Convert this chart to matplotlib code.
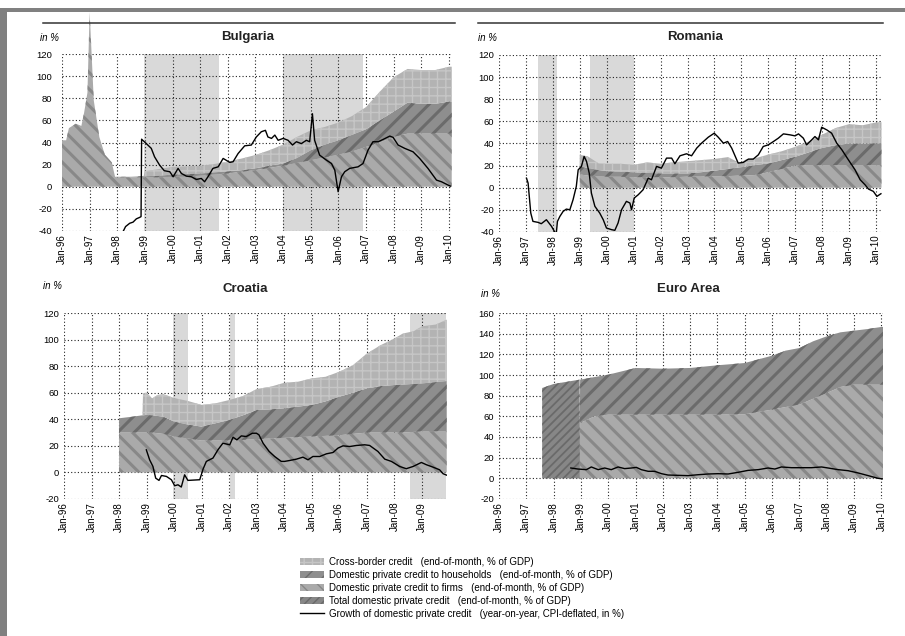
import numpy as np
import matplotlib
matplotlib.use("Agg")
import matplotlib.pyplot as plt
from matplotlib.patches import Patch, Rectangle
from matplotlib.lines import Line2D

plt.rcParams['font.family'] = ['Liberation Sans', 'DejaVu Sans']
plt.rcParams['axes.unicode_minus'] = False

# ---------------- data (% of GDP) ----------------
# Bulgaria
bg_t = [1996.0, 1996.15, 1996.25, 1996.5, 1996.7, 1996.8, 1996.92, 1997.0, 1997.15, 1997.35,
        1997.55, 1997.8, 1997.92, 1998.0, 1998.5, 1998.95, 1999.0, 1999.5, 2000.0, 2000.5,
        2001.0, 2001.5, 2002.0, 2002.5, 2003.0, 2003.5, 2004.0, 2004.5, 2005.0, 2005.5,
        2006.0, 2006.5, 2007.0, 2007.5, 2008.0, 2008.5, 2009.0, 2009.5, 2010.0, 2010.1]
bg_firms = [42, 42, 53, 57, 55, 67, 85, 158, 78, 45,
            29, 22, 9, 8.5, 8.5, 8.5, 8.5, 8.5, 9, 9,
            10, 11, 12, 13.5, 15, 17, 19, 21.5, 24, 26.5,
            29, 32, 36, 40, 45, 48, 48, 48, 48, 48]
bg_house = [0, 0, 0, 0, 0, 0, 0, 0, 0, 0,
            0, 0, 0, 0.5, 0.5, 1, 1, 1.5, 2, 2.5,
            2, 2, 2, 1.5, 1.7, 2, 2, 4.5, 9, 11.5,
            13, 15, 16, 20, 23, 28, 27, 27, 29, 29]
bg_cross = [0, 0, 0, 0, 0, 0, 0, 0, 0, 0,
            0, 0, 0, 0, 0, 0, 4.5, 6, 7, 7,
            7, 7.5, 8.7, 10.5, 12, 14, 17, 19, 18, 16,
            16, 17, 20, 26, 31, 30.5, 30.5, 30.5, 31.5, 31.5]
bg_gt = [1998.18, 1998.3, 1998.45, 1998.57, 1998.69, 1998.81, 1998.86, 1998.88, 1999.05, 1999.23,
         1999.35, 1999.53, 1999.7, 1999.9, 2000.02, 2000.2, 2000.32, 2000.5, 2000.68, 2000.86,
         2001.04, 2001.16, 2001.28, 2001.46, 2001.65, 2001.83, 2002.07, 2002.19, 2002.37, 2002.61,
         2002.85, 2003.03, 2003.21, 2003.36, 2003.45, 2003.58, 2003.7, 2003.82, 2004.0, 2004.18,
         2004.34, 2004.48, 2004.66, 2004.84, 2004.96, 2005.06, 2005.14, 2005.32, 2005.57, 2005.75,
         2005.87, 2005.99, 2006.11, 2006.23, 2006.41, 2006.71, 2006.89, 2007.07, 2007.25, 2007.44,
         2007.62, 2007.86, 2007.98, 2008.16, 2008.4, 2008.7, 2008.94, 2009.24, 2009.55, 2009.73,
         2009.97, 2010.05]
bg_growth = [-42, -36, -33, -32, -29, -27.7, -27, 43, 39, 34.7,
             27, 19.6, 14.5, 13.6, 9, 16.6, 12, 9.6, 9, 6.6,
             7.5, 4.5, 9, 16.6, 18, 25.6, 22, 22.6, 30, 37,
             37.7, 45, 49.7, 51, 45, 43.7, 46.7, 42, 43.7, 42,
             37.7, 40.7, 39, 42, 40.7, 66, 42, 28.6, 24, 21,
             15, -4.5, 9, 13.6, 16.6, 18, 21, 33, 40.7, 40.7,
             42.8, 45.8, 44.6, 37.7, 34.7, 31.6, 25.6, 16.6, 6, 4.5,
             1.5, 0.6]
bg_shade = [(1998.97, 2001.67), (2004.0, 2006.89)]

# Romania
ro_t = [1999.0, 1999.3, 1999.7, 2000.0, 2000.5, 2001.0, 2001.5, 2002.0, 2002.5, 2003.0,
        2003.5, 2004.0, 2004.5, 2004.95, 2005.15, 2005.5, 2006.0, 2006.5, 2007.0, 2007.5,
        2008.0, 2008.5, 2009.0, 2009.5, 2010.0, 2010.2]
ro_firms = [12, 11, 10.5, 10, 10, 9.5, 9.5, 9.5, 9.5, 10,
            10, 10.5, 10.5, 11, 11, 11.5, 14, 17, 20, 20.5,
            20.5, 20.5, 20.5, 20.5, 20.5, 20.5]
ro_house = [7, 7, 5.5, 5, 4.5, 4.5, 4, 3.5, 3.5, 3,
            4, 5, 6.5, 7.5, 8, 9, 8, 8, 8, 11.5,
            15.5, 18, 19.5, 19.5, 19.7, 19.7]
ro_cross = [10.8, 10.3, 6, 6.7, 7.2, 6.8, 9.4, 8.7, 10, 11,
            11, 10.5, 10.7, 3.8, 6.3, 6.1, 8, 8, 9, 9.8,
            12, 15.5, 17.5, 16.5, 18.8, 19.1]
ro_gt = [1997.02, 1997.08, 1997.18, 1997.26, 1997.45, 1997.57, 1997.76, 1997.95, 1998.07, 1998.12,
         1998.17, 1998.26, 1998.38, 1998.5, 1998.63, 1998.75, 1998.87, 1998.94, 1999.06, 1999.16,
         1999.25, 1999.35, 1999.43, 1999.56, 1999.74, 1999.87, 1999.99, 2000.18, 2000.3, 2000.42,
         2000.55, 2000.73, 2000.86, 2000.92, 2001.02, 2001.17, 2001.35, 2001.54, 2001.66, 2001.85,
         2002.03, 2002.22, 2002.41, 2002.53, 2002.72, 2002.96, 2003.15, 2003.34, 2003.52, 2003.77,
         2003.99, 2004.14, 2004.33, 2004.49, 2004.64, 2004.88, 2005.07, 2005.26, 2005.44, 2005.63,
         2005.81, 2006.0, 2006.19, 2006.37, 2006.56, 2006.81, 2006.99, 2007.12, 2007.3, 2007.42,
         2007.61, 2007.73, 2007.86, 2007.98, 2008.17, 2008.35, 2008.54, 2008.73, 2008.97, 2009.22,
         2009.41, 2009.59, 2009.72, 2009.9, 2010.03, 2010.18]
ro_growth = [8.7, 4.2, -22.9, -30.4, -31.3, -32.5, -28.9, -34.9, -40, -43,
             -30.4, -25.9, -21.4, -19.3, -19.9, -10.8, 1.2, 16.2, 19.3, 28.3,
             23.8, 13.2, -4.8, -16.8, -22.9, -28.9, -36.4, -37.9, -38.5, -31.9,
             -19.9, -12.3, -13.8, -19.9, -9.3, -6.3, -1.8, 8.7, 7.2, 19.3,
             17.7, 26.8, 26.8, 21.7, 28.9, 30.7, 28.9, 35.8, 40.3, 45.7,
             49.3, 45.7, 40.3, 41.8, 35.8, 22.3, 22.9, 25.9, 25.9, 29.8,
             37.3, 38.8, 41.8, 44.8, 48.7, 47.8, 46.9, 48.7, 44.8, 38.8,
             43.3, 46.3, 43.3, 54.7, 52.3, 49.3, 40.3, 34.3, 25.3, 16.2,
             7.2, 2.7, -1.2, -3.3, -7.8, -5.4]
ro_shade = [(1997.43, 1998.16), (1999.37, 2001.02)]

# Croatia
hr_t = [1998.0, 1998.5, 1998.85, 1998.87, 1999.0, 1999.2, 1999.4, 1999.6, 2000.0, 2000.5,
        2001.0, 2001.5, 2002.0, 2002.5, 2003.0, 2003.5, 2004.0, 2004.5, 2005.0, 2005.5,
        2006.0, 2006.5, 2007.0, 2007.5, 2008.0, 2008.3, 2008.7, 2009.0, 2009.5, 2009.9]
hr_firms = [30, 30, 30, 30, 30, 30, 29.5, 29, 27, 25.5,
            24, 24, 24, 24.5, 25, 25.5, 26, 26.5, 27, 27.5,
            28, 29, 30, 30, 30, 30, 30.5, 31, 31, 31]
hr_house = [10.75, 12, 13, 13, 13.3, 13, 13, 13, 11.3, 10.5,
            10.5, 13, 15.5, 18.5, 22, 22, 22.3, 23, 23.8, 26,
            29, 31, 33.3, 35, 35.8, 36.2, 36.1, 36, 37, 37.8]
hr_cross = [0, 0, 0, 16.5, 16.7, 12.8, 15.8, 17, 17.7, 17.8,
            16.3, 15, 15, 14.5, 15.8, 17, 19.2, 18.8, 20, 18.5,
            18.8, 20.8, 26.2, 30.8, 35, 38.3, 39.7, 43, 43.3, 46.2]
hr_gt = [1998.99, 1999.11, 1999.23, 1999.33, 1999.45, 1999.54, 1999.72, 1999.9, 2000.02, 2000.14,
         2000.26, 2000.38, 2000.5, 2000.93, 2001.05, 2001.17, 2001.41, 2001.59, 2001.77, 2002.02,
         2002.14, 2002.28, 2002.44, 2002.62, 2002.84, 2002.99, 2003.08, 2003.23, 2003.45, 2003.65,
         2003.89, 2004.01, 2004.2, 2004.44, 2004.68, 2004.86, 2005.04, 2005.29, 2005.53, 2005.77,
         2005.95, 2006.13, 2006.38, 2006.62, 2006.92, 2007.1, 2007.4, 2007.65, 2007.89, 2008.19,
         2008.43, 2008.68, 2008.98, 2009.16, 2009.4, 2009.64, 2009.77, 2009.89]
hr_growth = [17, 9.5, 4.5, -4.3, -6, -2.3, -3, -5.5, -10, -9.3,
             -11, -1.8, -6, -5.5, 2.5, 8.3, 10.8, 17, 22, 20.8,
             26.5, 24.5, 27.5, 27, 29.5, 29.5, 28.3, 22, 15.8, 12,
             8.3, 8.3, 9, 10, 11.5, 9.5, 12, 12, 14, 15,
             18.3, 20, 19.5, 20.3, 20.8, 20.3, 15.8, 10, 8.3, 4.5,
             2.8, 4.5, 7.5, 5.8, 4, 2, -1, -2]
hr_shade = [(1999.96, 2000.5), (2002.02, 2002.22), (2008.55, 2009.89)]

# Euro Area (before 1999 only the total is available)
ea_t = [1997.58, 1998.0, 1998.95, 1998.97, 1999.5, 2000.0, 2001.0, 2002.0, 2003.0, 2004.0,
        2005.0, 2006.0, 2006.5, 2007.0, 2007.5, 2008.0, 2008.5, 2009.0, 2009.5, 2010.0, 2010.07]
ea_total = [87.4, 91.3, 95.5, 0, 0, 0, 0, 0, 0, 0,
            0, 0, 0, 0, 0, 0, 0, 0, 0, 0, 0]
ea_firms = [0, 0, 0, 53.6, 60, 61.6, 61.6, 61.6, 61.6, 61.6,
            62, 66.5, 69, 71.3, 77, 82.6, 88.4, 90.6, 90.6, 90.6, 90.6]
ea_house = [0, 0, 0, 41.9, 38, 38.7, 45.2, 44.5, 45.2, 47.8,
            49.6, 52.2, 54.6, 54.8, 55.6, 54.8, 52.9, 52.3, 53.9, 55.9, 55.9]
ea_gt = [1998.63, 1998.89, 1999.2, 1999.38, 1999.63, 1999.87, 2000.11, 2000.36, 2000.6, 2000.85,
         2001.03, 2001.21, 2001.46, 2001.7, 2001.95, 2002.19, 2002.56, 2002.92, 2003.29, 2003.66,
         2004.02, 2004.39, 2004.75, 2005.12, 2005.49, 2005.85, 2006.1, 2006.34, 2006.71, 2007.07,
         2007.44, 2007.81, 2008.05, 2008.42, 2008.78, 2009.15, 2009.52, 2009.88, 2010.07]
ea_growth = [10, 9, 8.4, 11, 8.4, 10, 8.4, 11, 9.4, 10,
             10.6, 8.4, 6.8, 6.8, 4.5, 3.2, 2.9, 2.6, 3.5, 4.2,
             4.5, 4.2, 5.8, 7.7, 8.4, 10, 9, 11, 10.3, 10.3,
             10.3, 11, 10, 8.4, 7.4, 5.2, 2.6, 0, -0.6]

legend_labels = ["Cross-border credit   (end-of-month, % of GDP)",
                 "Domestic private credit to households   (end-of-month, % of GDP)",
                 "Domestic private credit to firms   (end-of-month, % of GDP)",
                 "Total domestic private credit   (end-of-month, % of GDP)",
                 "Growth of domestic private credit   (year-on-year, CPI-deflated, in %)"]

# ---------------- styles ----------------
SHADE = '#d9d9d9'
FIRMS = dict(face='#aaaaaa', hcol='#888888', hatch='\\\\', hlw=2.2)
HOUSE = dict(face='#8e8e8e', hcol='#6b6b6b', hatch='//', hlw=2.2)
CROSS = dict(face='#b3b3b3', hcol='#c6c6c6', hatch='++', hlw=1.0)
TOTAL = dict(face='#878787', hcol='#6a6a6a', hatch='////', hlw=1.3)

W, H = 905, 636
fig = plt.figure(figsize=(W / 100, H / 100), dpi=100)


def box(l, t, r, b):
    return [l / W, 1 - b / H, (r - l) / W, (b - t) / H]


def layer(ax, x, lo, hi, st, clip=True):
    with plt.rc_context({'hatch.linewidth': st['hlw']}):
        pc = ax.fill_between(x, lo, hi, facecolor=st['face'], edgecolor=st['hcol'],
                             hatch=st['hatch'], linewidth=0, zorder=1)
    if hasattr(pc, 'set_hatch_linewidth'):
        pc.set_hatch_linewidth(st['hlw'])
    pc.set_clip_on(clip)
    return pc


def setup(ax, xmax, ylo, yhi, last_year, ypad):
    ax.set_xlim(1996, xmax)
    ax.set_ylim(ylo, yhi)
    yrs = list(range(1996, last_year + 1))
    ax.set_xticks(yrs)
    ax.set_xticklabels(['Jan-%02d' % (y % 100) for y in yrs], rotation=90, fontsize=7)
    ax.set_yticks(range(ylo, yhi + 1, 20))
    ax.tick_params(axis='y', length=0, pad=ypad, labelsize=6.8)
    ax.tick_params(axis='x', length=0, pad=2)
    for s in ax.spines.values():
        s.set_visible(False)
    ax.set_axisbelow(True)
    ax.grid(True, color='#222222', linestyle=(0, (1, 2)), linewidth=0.8)
    ax.patch.set_alpha(0)


def stacked(ax, t, firms, house, cross, clip=True):
    t = np.array(t)
    f = np.array(firms, float)
    h = f + np.array(house, float)
    c = h + np.array(cross, float)
    layer(ax, t, 0, f, FIRMS, clip)
    layer(ax, t, f, h, HOUSE)
    layer(ax, t, h, c, CROSS)


def shade(ax, periods):
    for a, b in periods:
        ax.axvspan(a, b, color=SHADE, linewidth=0, zorder=0.2)


# Bulgaria
ax = fig.add_axes(box(62, 54, 452, 231))
setup(ax, 2010.11, -40, 120, 2010, 7)
shade(ax, bg_shade)
stacked(ax, bg_t, bg_firms, bg_house, bg_cross, clip=False)
ax.plot(bg_gt, bg_growth, color='black', lw=1.0, zorder=3)

# Romania
ax = fig.add_axes(box(499, 55, 882, 232))
setup(ax, 2010.22, -40, 120, 2010, 3.5)
shade(ax, ro_shade)
stacked(ax, ro_t, ro_firms, ro_house, ro_cross)
ax.plot(ro_gt, ro_growth, color='black', lw=1.0, zorder=3)

# Croatia
ax = fig.add_axes(box(64, 313, 447, 499))
setup(ax, 2009.91, -20, 120, 2009, 3.5)
shade(ax, hr_shade)
stacked(ax, hr_t, hr_firms, hr_house, hr_cross)
ax.plot(hr_gt, hr_growth, color='black', lw=1.0, zorder=3)

# Euro Area
ax = fig.add_axes(box(499, 313, 883, 499))
setup(ax, 2010.06, -20, 160, 2010, 3.5)
layer(ax, ea_t, 0, ea_total, TOTAL)
stacked(ax, ea_t, ea_firms, ea_house, [0] * len(ea_t))
ax.plot(ea_gt, ea_growth, color='black', lw=1.0, zorder=3)

# titles, "in %" labels, rules above the top panels
for x, y, s in [(248, 37, 'Bulgaria'), (695, 37, 'Romania'), (245, 289, 'Croatia'), (688, 289, 'Euro Area')]:
    fig.text(x / W, 1 - y / H, s, ha='center', va='center', fontsize=9.5, fontweight='bold', color='#222222')
for x, y in [(40, 38), (478, 38), (43, 286), (481, 294)]:
    fig.text(x / W, 1 - y / H, 'in %', ha='left', va='center', fontsize=7, style='italic')
fig.add_artist(Line2D([43 / W, 455 / W], [1 - 22.7 / H] * 2, color='#333333', lw=1.1))
fig.add_artist(Line2D([478 / W, 883 / W], [1 - 22.7 / H] * 2, color='#333333', lw=1.1))

# grey frame
fig.add_artist(Rectangle((0, 0), 7 / W, 1 - 8 / H, transform=fig.transFigure, color='#808080', lw=0))
fig.add_artist(Rectangle((0, 1 - 12 / H), 1, 4 / H, transform=fig.transFigure, color='#808080', lw=0))

# legend
handles = []
for st in [CROSS, HOUSE, FIRMS, TOTAL]:
    with plt.rc_context({'hatch.linewidth': st['hlw']}):
        p = Patch(facecolor=st['face'], edgecolor=st['hcol'], hatch=st['hatch'], linewidth=0)
    handles.append(p)
handles.append(Line2D([], [], color='black', lw=1.0))
fig.legend(handles, legend_labels, loc='upper left', bbox_to_anchor=(300 / W, 1 - 557 / H),
           frameon=False, fontsize=7, handlelength=2.5, handleheight=0.75, handletextpad=0.5,
           labelspacing=0.3, borderpad=0, borderaxespad=0)

fig.savefig('out.png', dpi=100)
